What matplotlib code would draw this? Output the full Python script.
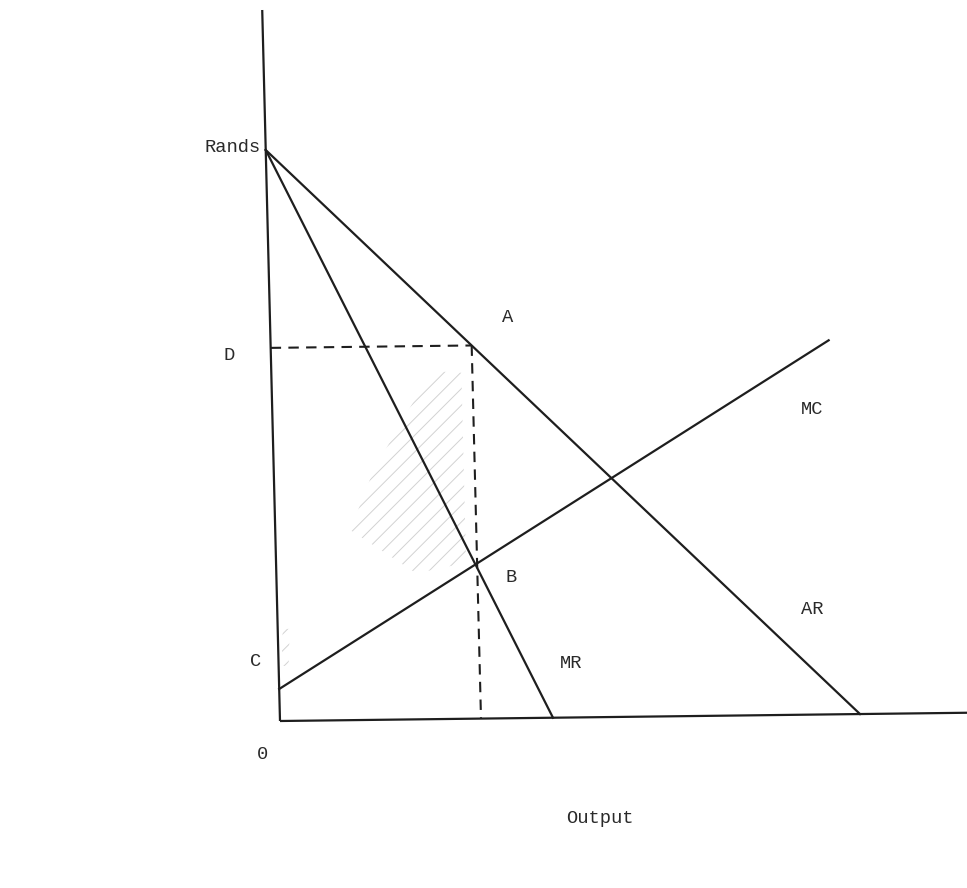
import numpy as np
import matplotlib
matplotlib.use('Agg')
import matplotlib.pyplot as plt
import matplotlib.transforms as mtransforms
from matplotlib.patches import Polygon

# Monopoly diagram: AR, MR and MC curves (quantity, rands)
price_intercept = 57.1      # where AR and MR meet the rands axis
ar_qty_intercept = 58.0     # AR meets the output axis
mr_qty_intercept = 27.3     # MR meets the output axis
mc_start = [0.0, 3.2]       # point C
mc_end = [55.8, 37.4]
q_monopoly = 20.1           # output where MR = MC
axis_top = 71.1
axis_right = 70.0

# derived points
p_monopoly = price_intercept * (1 - q_monopoly / ar_qty_intercept)   # point A / D
p_mr = price_intercept * (1 - q_monopoly / mr_qty_intercept)          # point B

# faint pencil hatching
hatch_main = np.array([[7.5, 19.0], [14.0, 14.6], [19.0, 15.6], [19.0, 34.6], [16.0, 34.8], [10.0, 25.0]])
hatch_axis = np.array([[0.3, 5.5], [1.0, 5.5], [1.2, 9.2], [0.5, 9.2]])

labels = ['Rands', 'A', 'D', 'MC', 'B', 'AR', 'MR', 'C', '0', 'Output']
label_x = [-4.7, 22.8, -5.1, 53.2, 23.1, 53.2, 29.1, -2.4, -1.7, 32.0]
label_y = [57.4, 40.3, 36.6, 31.1, 14.3, 11.2, 5.8, 5.9, -3.3, -9.7]

fig = plt.figure(figsize=(9.67, 8.88), dpi=100)
ax = fig.add_axes([0, 0, 1, 1])
ax.set_xlim(-28, 68.7)
ax.set_ylim(-16.7, 72.1)
ax.axis('off')

# the scanned page is slightly skewed
skew = mtransforms.Affine2D(np.array([[1.0, -0.025, 0.0],
                                      [0.012, 1.0, 0.0],
                                      [0.0, 0.0, 1.0]]))
tr = skew + ax.transData

ink = '#1e1e1e'
lw = 1.6

# axes
ax.plot([0, 0], [0, axis_top], color=ink, lw=lw, transform=tr, solid_capstyle='butt')
ax.plot([0, axis_right], [0, 0], color=ink, lw=lw, transform=tr, solid_capstyle='butt')

# curves
ax.plot([0, ar_qty_intercept], [price_intercept, 0], color=ink, lw=lw, transform=tr)
ax.plot([0, mr_qty_intercept], [price_intercept, 0], color=ink, lw=lw, transform=tr)
ax.plot([mc_start[0], mc_end[0]], [mc_start[1], mc_end[1]], color=ink, lw=lw, transform=tr)

# dashed guides through A
ax.plot([0, q_monopoly], [p_monopoly, p_monopoly], color=ink, lw=1.5,
        linestyle=(0, (5, 3.5)), transform=tr)
ax.plot([q_monopoly, q_monopoly], [p_monopoly, 0], color=ink, lw=1.5,
        linestyle=(0, (5, 3.5)), transform=tr)

plt.rcParams['hatch.linewidth'] = 0.7
for pts in (hatch_main, hatch_axis):
    ax.add_patch(Polygon(pts, closed=True, facecolor='none', edgecolor='#d2d2d2',
                         hatch='//', lw=0, transform=tr))

for txt, x, y in zip(labels, label_x, label_y):
    ax.text(x, y, txt, fontsize=13.5, family='Liberation Mono', color='#2a2a2a',
            ha='center', va='center')

fig.savefig('out.png', dpi=100, facecolor='white')
